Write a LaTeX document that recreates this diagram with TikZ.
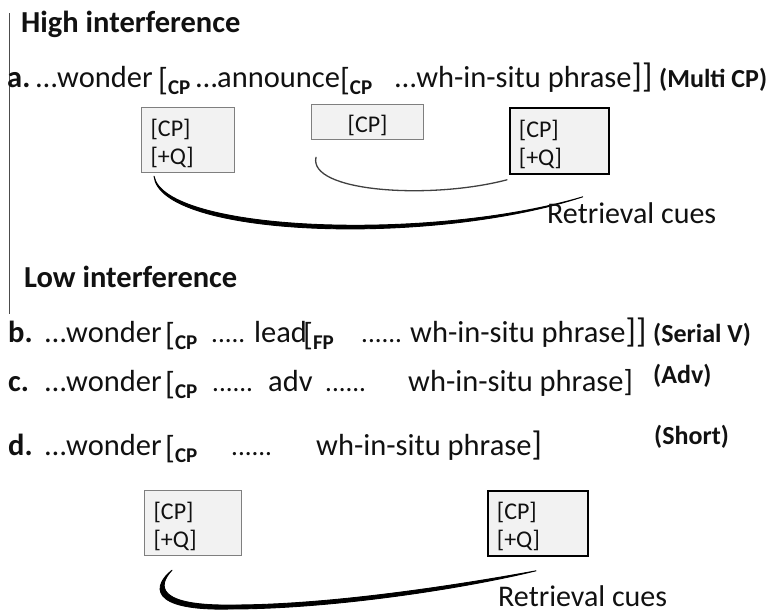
\documentclass[tikz,border=0pt]{standalone}
\usepackage{fontspec}
\setmainfont{Carlito}
\usetikzlibrary{calc}
\newcommand\myLB{\raisebox{-3pt}{\fontsize{32}{32}\selectfont[}}
\newcommand\mySub[1]{\raisebox{-7pt}{\bfseries\fontsize{21}{21}\selectfont #1}}
\newcommand\myRB{{\fontsize{34}{34}\selectfont]}}
\definecolor{boxfill}{HTML}{F2F2F2}
\definecolor{boxgray}{HTML}{7F7F7F}
\definecolor{inkc}{HTML}{111111}
\begin{document}
\begin{tikzpicture}[x=1pt,y=-1pt,
  txt/.style={anchor=base west, inner sep=0pt, text=inkc, font=\fontsize{30.5}{30.5}\selectfont},
  dots/.style={anchor=base west, inner sep=0pt, text=inkc, font=\fontsize{27}{27}\selectfont},
  lbl/.style={anchor=base west, inner sep=0pt, text=inkc, font=\bfseries\fontsize{30.5}{30.5}\selectfont},
  tag/.style={anchor=base west, inner sep=0pt, text=inkc, font=\bfseries\fontsize{26}{26}\selectfont},
  cue/.style={anchor=base west, inner sep=0pt, text=inkc, font=\fontsize{30}{30}\selectfont},
  cpbox/.style={anchor=north west, fill=boxfill, draw=boxgray, line width=1.2pt, align=left,
     inner xsep=9pt, inner ysep=0pt, text=inkc, font=\fontsize{24}{28}\selectfont},
  cpboxdark/.style={cpbox, draw=black, line width=1.8pt},
  thinc/.style={draw=black!75, line width=1.3pt, line cap=round},
  brush/.style={fill=black, draw=black, line width=0.9pt, line join=round},
  vline/.style={draw=black!70, line width=1pt}
]
\useasboundingbox (0,0) rectangle (767,613);
\draw[vline] (9,13) -- (9,314);

% High interference
\node[lbl] (hHigh) at (21,32) {High interference};
\node[lbl] (aL) at (7,87) {a.};
\node[txt] (a2) at (36,87) {…wonder};
\node[txt] (a3) at (158,87) {\myLB\mySub{CP}};
\node[txt] (a4) at (196,87) {…announce\myLB\mySub{CP}};
\node[txt] (a6) at (395,87) {…wh-in-situ phrase\myRB\myRB};
\node[tag] (a7) at (659,87) {(Multi CP)};

\node[cpbox, minimum width=93pt, minimum height=65pt, text width=75pt] (box1) at (141,107) {\rule{0pt}{24pt}[CP]\\ \mbox{[+Q]}};
\node[cpbox, minimum width=112pt, minimum height=35pt, text width=94pt, align=center] (box2) at (311,104) {\rule{0pt}{25pt}[CP]};
\node[cpboxdark, minimum width=99pt, minimum height=66pt, text width=81pt] (box3) at (509,107) {\rule{0pt}{24pt}[CP]\\ \mbox{[+Q]}};

\coordinate (s1) at ($(box2.south west)+(5,17)$);
\coordinate (e1) at ($(box3.south west)+(-2,5)$);
\draw[thinc] (s1) .. controls (308,192) and (430,200) .. (e1);

\coordinate (s2) at ($(box1.south west)+(13,3)$);
\coordinate (e2) at ($(box3.south east)+(-27,22)$);
\filldraw[brush] (s2) .. controls (160,237) and (430,247) .. (e2)
   .. controls (430,242) and (165,232) .. (s2) -- cycle;
\node[cue] (cue1) at (547,223) {Retrieval cues};

% Low interference
\node[lbl] (hLow) at (24,287) {Low interference};

\node[lbl] (bL) at (8,342) {b.};
\node[txt] (b2) at (45,342) {…wonder};
\node[txt] (b3) at (165,342) {\myLB\mySub{CP}};
\node[dots] (b4) at (211,342) {.....};
\node[txt] (b5) at (254,342) {lead};
\node[txt] (b6) at (303,342) {\myLB\mySub{FP}};
\node[dots] (b7) at (361,342) {......};
\node[txt] (b8) at (410,342) {wh-in-situ phrase\myRB\myRB};
\node[tag] (b9) at (653,342) {(Serial V)};

\node[lbl] (cL) at (8,391) {c.};
\node[txt] (c2) at (45,391) {…wonder};
\node[txt] (c3) at (165,391) {\myLB\mySub{CP}};
\node[dots] (c4) at (212,391) {......};
\node[txt] (c5) at (268,391) {adv};
\node[dots] (c6) at (325,391) {......};
\node[txt] (c7) at (408,391) {wh-in-situ phrase]};
\node[tag] (c8) at (653,383) {(Adv)};

\node[lbl] (dL) at (8,455) {d.};
\node[txt] (d2) at (45,455) {…wonder};
\node[txt] (d3) at (165,455) {\myLB\mySub{CP}};
\node[dots] (d4) at (231,455) {......};
\node[txt] (d5) at (316,455) {wh-in-situ phrase\myRB};
\node[tag] (d6) at (654,444) {(Short)};

\node[cpbox, minimum width=97pt, minimum height=65pt, text width=79pt] (boxL) at (144,490) {\rule{0pt}{24pt}[CP]\\ \mbox{[+Q]}};
\node[cpboxdark, minimum width=100pt, minimum height=65pt, text width=82pt] (boxR) at (487,490) {\rule{0pt}{24pt}[CP]\\ \mbox{[+Q]}};

\coordinate (s3) at ($(boxL.south west)+(28,14)$);
\coordinate (e3) at ($(boxR.south west)+(49,14)$);
\filldraw[brush] (s3) .. controls (153,585) and (147,611) .. (230,609)
         .. controls (330,609) and (462,589) .. (e3)
         .. controls (458,585) and (330,605) .. (232,605)
         .. controls (157,606) and (157,586) .. (s3) -- cycle;
\node[cue] (cue2) at (498,606) {Retrieval cues};
\end{tikzpicture}
\end{document}
